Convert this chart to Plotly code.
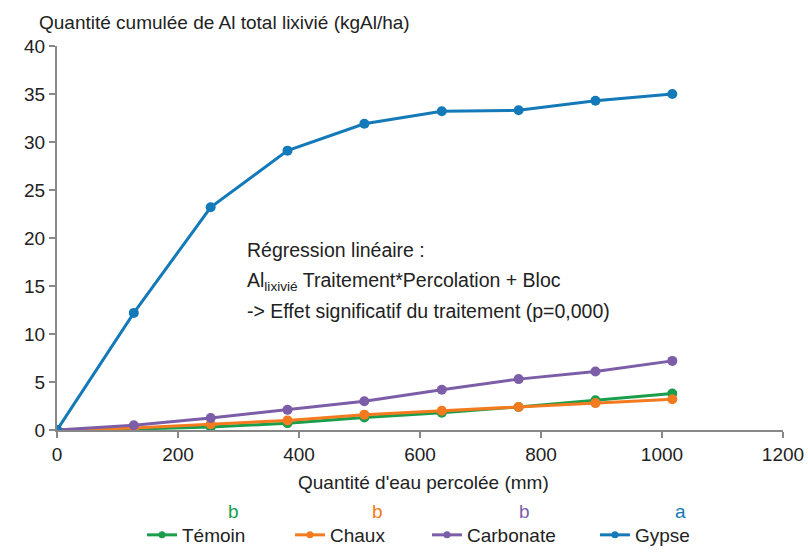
import plotly.graph_objects as go

percolation = [0, 127, 254, 381, 508, 636, 763, 890, 1017]
temoin = [0, 0.1, 0.3, 0.7, 1.3, 1.8, 2.4, 3.1, 3.8]
chaux = [0, 0.2, 0.6, 1.0, 1.6, 2.0, 2.4, 2.8, 3.2]
carbonate = [0, 0.5, 1.25, 2.1, 3.0, 4.2, 5.3, 6.1, 7.2]
gypse = [0, 12.2, 23.2, 29.1, 31.9, 33.2, 33.3, 34.3, 35.0]

series_names = ["Témoin", "Chaux", "Carbonate", "Gypse"]
series_values = [temoin, chaux, carbonate, gypse]
series_colors = ["#1a9e4b", "#f47a20", "#7b5ea7", "#1479b8"]
group_letters = ["b", "b", "b", "a"]

FONT = "Liberation Sans, Arial, sans-serif"
FS = 19
W, H = 808, 552
ML, MR, MT, MB = 57, 25, 46, 122
PW, PH = W - ML - MR, H - MT - MB


def px_x(px):
    return (px - ML) / PW


def px_y(py):
    return (H - MB - py) / PH


legend_starts = [147, 295, 432, 600]
letter_x = [233, 377, 524, 680]

fig = go.Figure()
for i, (name, vals, col) in enumerate(zip(series_names, series_values, series_colors)):
    lg = "legend" if i == 0 else f"legend{i + 1}"
    fig.add_trace(go.Scatter(
        x=percolation, y=vals, name=name, mode="lines+markers",
        line=dict(color=col, width=3),
        marker=dict(color=col, size=10),
        showlegend=False,
    ))
    fig.add_trace(go.Scatter(
        x=[None], y=[None], name=name, mode="lines+markers",
        line=dict(color=col, width=3),
        marker=dict(color=col, size=7),
        showlegend=True, legend=lg,
    ))

ann = []
ann.append(dict(text="Quantité cumulée de Al total lixivié (kgAl/ha)", xref="paper", yref="paper",
                x=px_x(37), y=px_y(22), xanchor="left", yanchor="middle", showarrow=False,
                font=dict(size=FS, color="#222", family=FONT)))
reg_lines = ["Régression linéaire :",
             "Al<sub>lixivié</sub> Traitement*Percolation + Bloc",
             "-> Effet significatif du traitement (p=0,000)"]
for txt, yy in zip(reg_lines, [250, 281, 311]):
    ann.append(dict(text=txt, xref="paper", yref="paper", x=px_x(245), y=px_y(yy),
                    xanchor="left", yanchor="middle", align="left", showarrow=False,
                    font=dict(size=19.5, color="#222", family=FONT)))
ann.append(dict(text="Quantité d'eau percolée (mm)", xref="paper", yref="paper",
                x=px_x(423), y=px_y(482), xanchor="center", yanchor="middle", showarrow=False,
                font=dict(size=FS, color="#222", family=FONT)))
for lx, lt, col in zip(letter_x, group_letters, series_colors):
    ann.append(dict(text=lt, xref="paper", yref="paper", x=px_x(lx), y=px_y(511),
                    xanchor="center", yanchor="middle", showarrow=False,
                    font=dict(size=FS, color=col, family=FONT)))

legends = {}
for i, sx in enumerate(legend_starts):
    key = "legend" if i == 0 else f"legend{i + 1}"
    legends[key] = dict(orientation="h", xref="container", yref="container",
                        x=(sx - 5) / W, xanchor="left", y=1 - 535 / H, yanchor="middle",
                        font=dict(size=FS, family=FONT, color="#222"),
                        bgcolor="rgba(0,0,0,0)", borderwidth=0)

fig.update_layout(
    width=W, height=H,
    margin=dict(l=ML, r=MR, t=MT, b=MB, autoexpand=False),
    plot_bgcolor="white", paper_bgcolor="white",
    font=dict(family=FONT, size=FS, color="#222"),
    annotations=ann,
    showlegend=True,
    xaxis=dict(range=[0, 1200], dtick=200, showgrid=False, zeroline=False, showline=True,
               linecolor="#888", linewidth=2, ticks="outside", tickcolor="#888", ticklen=6, tickwidth=2,
               automargin=False, tickfont=dict(size=FS, color="#222")),
    yaxis=dict(range=[0, 40], dtick=5, showgrid=False, zeroline=False, showline=True,
               linecolor="#888", linewidth=2, ticks="outside", tickcolor="#888", ticklen=6, tickwidth=2,
               automargin=False, tickfont=dict(size=FS, color="#222")),
    **legends,
)
fig.write_html("out.html", config={"displayModeBar": False},
               post_script="document.body.style.margin='0';")
